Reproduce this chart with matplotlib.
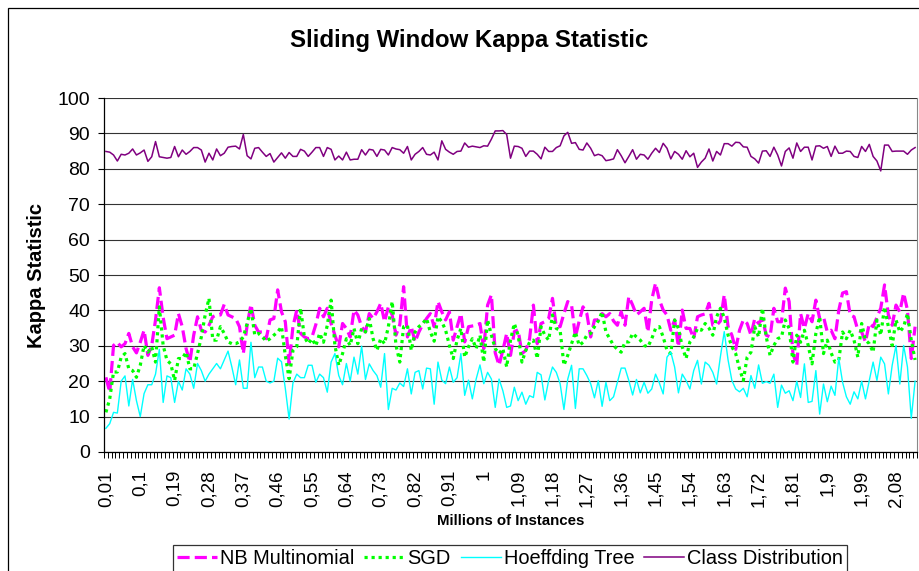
import numpy as np
import matplotlib
matplotlib.use("Agg")
import matplotlib.pyplot as plt
from matplotlib.patches import Rectangle

plt.rcParams['font.family'] = ['Liberation Sans', 'DejaVu Sans']

# kappa values, one per 10k-instance window (0,01 .. 2,13 million)
nb_multinomial = [
    21.1, 16.9, 30.1, 31, 29.7, 30.6, 33.5, 29.7, 28, 31, 34.4, 27.3, 30.1, 37.3, 46.4, 38, 32, 32.5, 33, 39.1,
    35.4, 29.2, 25.4, 33, 38.2, 34.4, 33.9, 35.8, 38.2, 38.7, 38.7, 41.7, 38.7, 38.2, 37.7, 35.4, 27.8, 35.8, 41.7, 35.8,
    33.9, 33.9, 32, 37.3, 37.7, 45.8, 39.6, 36.8, 24.9, 35.4, 40.1, 33.5, 32.5, 32,
    32.5, 36, 40.6, 38.2, 40.6, 36.3, 33, 29.7, 36.3, 34.9, 32.5, 40.1, 38.7, 35.4, 33.9, 39.1, 37.7, 39.6, 42, 36.8,
    41, 38.7, 33, 36, 46.7, 32.5, 35.4, 31.1, 33.9, 36, 37.7, 39.1, 35.4, 42.5, 39.6, 37.3, 39.6, 31.6, 35.4, 39.1,
    31.1, 35.4, 35.6, 35.8, 36.3, 29.2, 41.5, 44.4, 28, 24.5, 28.7, 33.5, 27.3, 34, 34.5,
    27.8, 28.7, 32, 41.5, 30.6, 36.3, 36.8, 37.7, 43.4, 35.4, 35.4, 39.1, 42.5, 41.5, 32.5, 37, 41, 39.1, 32.5, 37.3,
    37.3, 39.1, 38.2, 39.1, 37, 35.8, 39.6, 35.8, 43.9, 41.5, 38.7, 39.6, 40.6, 33.9, 43, 47.7, 43, 40.1, 38.7, 34.4,
    37.3, 29.7, 40.1, 34.9, 34.9, 32, 38.2, 38.7, 39, 42, 35.8, 35.8, 37, 44.4,
    35.4, 33, 29, 34.4, 37.3, 36.3, 33, 37.7, 36.3, 37.7, 33, 32.5, 40.6, 36.8, 36.8, 46.3, 42.5, 27.8, 24.5, 39.1,
    34.9, 39.1, 36.8, 42.9, 37.7, 38.2, 33.9, 34.4, 32, 40, 44.9, 45.3, 38.7, 38.2, 34.4, 33.9, 31.1, 36.3, 35.4, 38,
    40.6, 47.2, 38.7, 35.8, 41.5, 39.6, 44.9, 40.1, 26.4, 35.4,
]

sgd = [
    11.2, 15, 22.6, 22.6, 26.8, 27.8, 23.5, 23, 21.1, 24.5, 30.1, 28.2, 29.7, 25.4, 41, 30.1, 25.9, 24.9, 20.2, 26.4,
    26.4, 28.2, 23.5, 23.5, 27.8, 32.5, 38.7, 43.4, 31.6, 31.6, 35.4, 33.5, 31.1, 30.6, 30.6, 31.1, 32.5, 36.3, 40.6, 33,
    33.5, 32.5, 31.3, 32, 33, 33.9, 35.4, 27.3, 20.7, 28.7, 29.7, 40.6, 32.5, 30.6,
    32, 30, 33.5, 31, 35.8, 42.9, 30.1, 24.5, 27.8, 32, 30.1, 34.9, 30.6, 34.9, 33.9, 37.7, 32, 28.7, 32, 30.6,
    35.4, 42.5, 30.1, 25.4, 35.4, 35.8, 28.7, 33.9, 35.4, 36.3, 37.7, 33.9, 31.3, 38.2, 36.8, 34.4, 30.1, 26.4, 31.6, 34.9,
    26.8, 29.7, 32, 29.2, 33, 25.4, 37.3, 33, 29.2, 27.8, 29.2, 24, 31.6, 36.3, 33,
    25.4, 28.7, 31, 31.6, 26.4, 35.4, 33, 31.6, 38.7, 34.9, 34.4, 24.5, 27.3, 30.6, 33.9, 30.1, 31, 33, 33.5, 35.4,
    37, 39.6, 33.9, 32, 30.1, 29, 28.2, 31.1, 31.1, 33.5, 32.5, 31.6, 30.1, 29.7, 32, 34.9, 35.4, 32.5, 28.7, 27.8,
    37.3, 34.9, 29.7, 26.4, 31.1, 32.5, 34.9, 34.4, 36.3, 35, 33, 38.2, 40.6, 38,
    33, 29.7, 27.8, 23.5, 20.2, 26.8, 28.2, 35.4, 32.5, 40.6, 32.5, 27.3, 30.1, 32, 32.5, 37.3, 34.9, 25.4, 33, 31,
    34.4, 30.1, 24.9, 33.5, 38.2, 27.8, 31.6, 28, 25.4, 25.9, 33.9, 32, 34.4, 31.6, 26.8, 36.3, 31.6, 30.6, 28.2, 37.3,
    33, 41, 35.4, 30.1, 37.3, 33.9, 35.4, 39.1, 31.6, 26,
]

hoeffding_tree = [
    6.7, 8, 11.2, 11, 20, 21.5, 13, 20.5, 14.5, 10, 16.5, 19, 19, 22, 29, 14, 21.5, 21, 14, 20,
    17.5, 23.5, 22, 18, 25, 23, 20, 22, 23.5, 25, 23.5, 26, 28.5, 24, 19, 26, 18, 18, 31, 21,
    24, 24, 20, 19.5, 20, 26.5, 25.5, 18, 9.3, 19.5, 22, 21, 21, 24.5,
    24.5, 19.7, 22, 21, 16.9, 25.4, 27.8, 21.6, 19, 25, 20, 26.8, 22, 29.9, 20.5, 24.9, 23, 21.6, 18.3, 27.8,
    12, 18, 17.5, 19.5, 18.5, 23.5, 16.4, 22.5, 23, 17.8, 23.7, 23.5, 13.5, 25.4, 20.3, 19.3, 24, 19.7, 21, 27.8,
    16, 20.3, 15, 20.6, 24.6, 19.3, 22.5, 20.6, 12.6, 20.6, 17.3, 12.6, 13, 18.3, 14.5,
    16.9, 13.5, 15.9, 15.4, 22.5, 21.8, 14.7, 20.2, 24, 22.5, 19.3, 12, 20.6, 24.5, 12.3, 23.5, 23.5, 21.6, 19.3, 15.3,
    20.2, 12.9, 19.7, 14.5, 15.6, 19.7, 23.7, 23.7, 20.2, 16.1, 20.5, 16.7, 19.7, 16.6, 17.8, 22, 19.5, 16.4, 26.8, 28.2,
    24, 16.7, 22, 20.2, 17.8, 23, 25.9, 19.2, 25.4, 24.5, 22.5, 19.2, 27, 34,
    26, 20.2, 17.8, 17, 18, 15.6, 21.6, 18, 24.6, 19.4, 19.9, 19.4, 22, 12.6, 18.9, 16.6, 17.3, 14.5, 20, 15.4,
    24.9, 14, 14.3, 23, 10.7, 19.2, 14.2, 18.6, 16, 26.5, 19.7, 15.6, 13.5, 17, 15, 20, 15, 20.2, 25.4, 20.2,
    26.8, 24.9, 16.4, 24.5, 30.1, 19.2, 30.1, 24, 9.5, 20,
]

class_distribution = [
    84.9, 84.7, 83.9, 82.2, 84.1, 83.9, 84.4, 85.6, 83.9, 84.5, 85.3, 82.1, 83.4, 87.7, 83.4, 83.2, 83.0, 83.2, 86.3, 83.4,
    85.3, 84.1, 84.9, 86.0, 86.0, 85.3, 81.9, 84.4, 82.5, 85.6, 83.7, 84.4, 86.1, 86.3, 86.4, 85.6, 89.7, 83.7, 82.8, 85.8,
    86.0, 84.7, 83.5, 84.3, 81.9, 83.2, 84.5, 83.0, 84.6, 83.5, 83.5, 85.5, 85.0, 83.5, 84.7, 86.0, 86.0, 83.5, 86.0, 85.5,
    82.5, 83.6, 82.5, 84.7, 82.5, 82.7, 82.7, 85.4, 83.9, 85.5, 85.3, 83.5, 85.5, 85.3, 83.9, 86.0, 85.6, 85.4, 84.4, 86.3,
    82.5, 84.1, 84.9, 86.0, 84.1, 83.9, 84.7, 82.5, 87.9, 85.5, 84.7, 84.1, 84.9, 85.0, 87.3, 86.1, 86.4, 86.2, 86.0, 86.5,
    86.4, 88.4, 90.7, 90.7, 90.8,
    89.7, 83.0, 86.4, 86.3, 85.8, 83.5, 85.0, 85.0, 84.1, 82.8, 86.1, 84.9, 84.9, 86.0, 86.5, 89.3, 90.3, 87.2, 87.4, 85.5,
    85.3, 87.3, 85.8, 83.7, 84.1, 83.7, 82.3, 82.5, 82.8, 85.4, 83.7, 81.7, 83.5, 85.4, 82.7, 84.1, 83.9, 82.7, 84.4, 85.8,
    84.6, 87.2, 85.8, 82.8, 84.9, 84.1, 82.7, 85.1, 83.4, 84.4, 80.4, 81.9, 83.0, 85.6, 82.2, 84.9, 83.9, 87.1, 87.1, 86.4,
    87.5, 87.4, 86.2, 86.1, 83.5, 82.8, 81.6, 85.0, 85.1, 83.5, 86.1, 83.9, 80.8, 84.9, 85.9, 83.0, 87.3, 84.9, 86.1, 86.1,
    82.5, 86.4, 86.5, 85.8, 86.3, 83.5, 86.4, 84.4, 84.4, 85.0, 84.9, 83.5, 83.2, 86.3, 84.9, 86.9, 83.5, 82.2, 79.4, 86.7,
    86.7, 84.9, 85.0, 85.0, 85.0, 84.1, 85.3, 86.0,
]

tick_labels = ["0,01", "0,1", "0,19", "0,28", "0,37", "0,46", "0,55", "0,64", "0,73", "0,82", "0,91", "1",
               "1,09", "1,18", "1,27", "1,36", "1,45", "1,54", "1,63", "1,72", "1,81", "1,9", "1,99", "2,08"]

n = len(class_distribution)
x = np.arange(n)

W, H = 919, 571
fig = plt.figure(figsize=(W / 100, H / 100), dpi=100)
ax = fig.add_axes([104 / W, 1 - 452 / H, 813 / W, 354 / H])

ax.plot(x[:len(nb_multinomial)], nb_multinomial, color='#FF00FF', lw=2.3,
        linestyle=(0, (3.8, 1.6)), dash_capstyle='butt', label='NB Multinomial')
ax.plot(x[:len(sgd)], sgd, color='#00FF00', lw=2.3,
        linestyle=(0, (1.0, 1.2)), dash_capstyle='butt', label='SGD')
ax.plot(x[:len(hoeffding_tree)], hoeffding_tree, color='#00FFFF', lw=1.0, label='Hoeffding Tree')
ax.plot(x, class_distribution, color='#800080', lw=1.1, label='Class Distribution')

ax.set_xlim(-0.5, n - 0.5)
ax.set_ylim(0, 100)
ax.set_yticks(np.arange(0, 101, 10))
ax.yaxis.grid(True, color='#333333', lw=0.8)
ax.set_axisbelow(True)
ax.tick_params(axis='y', labelsize=14, length=4, width=0.8, pad=6, colors='black')

ax.set_xticks(np.arange(0, 9 * len(tick_labels), 9))
ax.set_xticklabels(tick_labels, rotation=90, fontsize=13.5)
ax.set_xticks(np.arange(-0.5, n, 1), minor=True)
ax.tick_params(axis='x', which='major', length=0, pad=13)
ax.tick_params(axis='x', which='minor', length=4, width=0.7)

ax.spines['top'].set_visible(False)
ax.spines['right'].set_color('#888888')
ax.spines['left'].set_linewidth(0.9)
ax.spines['bottom'].set_linewidth(0.9)

fig.text(36 / W, 1 - 276 / H, 'Kappa Statistic', fontsize=14.5, fontweight='bold',
         rotation=90, ha='center', va='center')
fig.text(511 / W, 1 - 521 / H, 'Millions of Instances', fontsize=10.8, fontweight='bold',
         ha='center', va='center')
fig.text(469 / W, 1 - 40 / H, 'Sliding Window Kappa Statistic', fontsize=17.3, fontweight='bold',
         ha='center', va='center')

leg = fig.legend(loc='upper center', bbox_to_anchor=(510 / W, 1 - 545 / H), ncol=4,
                 fontsize=14.4, frameon=True, fancybox=False, edgecolor='black',
                 handlelength=2.0, handletextpad=0.15, columnspacing=0.5,
                 borderpad=0.2, borderaxespad=0)
leg.get_frame().set_linewidth(0.9)

# outer chart border (chart is cropped on the right and bottom)
fig.patches.append(Rectangle((7.5 / W, -0.1), 1.2, 1 - 8 / H + 0.1, transform=fig.transFigure,
                             fill=False, edgecolor='black', lw=0.9))

fig.savefig('out.png', dpi=100)
